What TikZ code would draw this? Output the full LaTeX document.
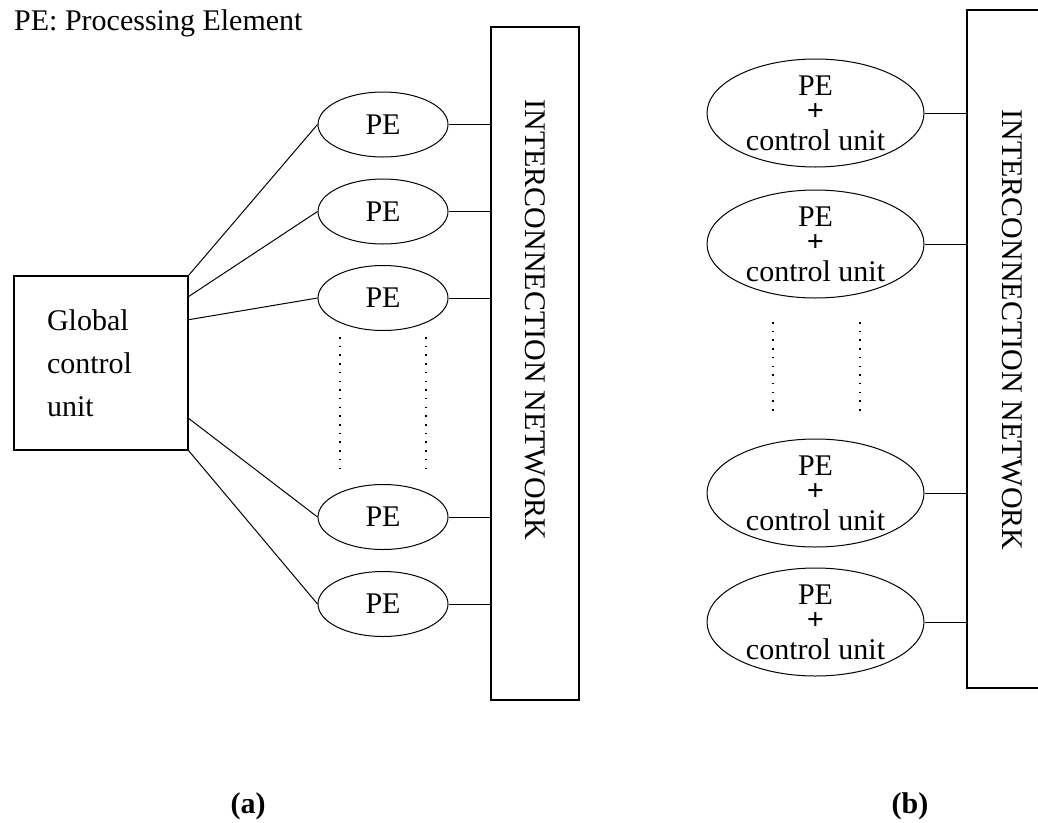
\documentclass[tikz,border=0pt]{standalone}
\usepackage{fontspec}
\setmainfont{Liberation Serif}
\usetikzlibrary{shapes.geometric,calc}
\begin{document}
\begin{tikzpicture}[x=1pt,y=-1pt,
  txt/.style={inner sep=0pt,font=\fontsize{30}{34}\selectfont},
  pe/.style={ellipse,draw,line width=1pt,minimum width=130pt,minimum height=65pt,inner sep=0pt,font=\fontsize{30}{34}\selectfont},
  pecu/.style={ellipse,draw,line width=1pt,minimum width=217pt,minimum height=108pt,inner sep=0pt,align=center,font=\fontsize{30}{30}\selectfont},
  conn/.style={line width=1pt},
  dots/.style={line width=1.3pt,dash pattern=on 1.5pt off 7.2pt},
  box/.style={draw,line width=1.2pt,inner sep=0pt}]
\useasboundingbox (0,0) rectangle (1038,822);

\node[txt,anchor=base west] (title) at (14,30) {PE: Processing Element};

% ---- (a) ----
\node[box,minimum width=174pt,minimum height=174pt,align=left,text width=108pt,
      font=\fontsize{30}{43}\selectfont] (gcu) at (101,363) {Global\\control\\unit};
\node[box,minimum width=88pt,minimum height=673pt] (ina) at (535,363.5) {};
\node[txt,rotate=-90] (inat) at (535,320) {INTERCONNECTION NETWORK};

\node[pe] (p1) at (383,124.5) {PE};
\node[pe] (p2) at (383,211.5) {PE};
\node[pe] (p3) at (383,298) {PE};
\node[pe] (p4) at (383,517) {PE};
\node[pe] (p5) at (383,604) {PE};

\draw[conn] (gcu.north east) -- (p1.west);
\draw[conn] ($(gcu.north east)!0.1207!(gcu.south east)$) -- (p2.west);
\draw[conn] ($(gcu.north east)!0.2529!(gcu.south east)$) -- (p3.west);
\draw[conn] ($(gcu.north east)!0.816!(gcu.south east)$) -- (p4.west);
\draw[conn] (gcu.south east) -- (p5.west);

\foreach \p in {p1,p2,p3,p4,p5}
  \draw[conn] (\p.east) -- (\p.east -| ina.west);

\draw[dots] (340,337) -- (340,468);
\draw[dots] (426,337) -- (426,468);

\node[txt,anchor=base,font=\fontsize{30}{34}\selectfont\bfseries] (la) at (248,813) {(a)};

% ---- (b) ----
\node[box,minimum width=120pt,minimum height=678pt] (inb) at (1027,349) {};
\node[txt,rotate=-90] (inbt) at (1012,330) {INTERCONNECTION NETWORK};

\node[pecu] (q1) at (815.5,113) {PE\\[-5pt]\textbf{+}\\control unit};
\node[pecu] (q2) at (815.5,244) {PE\\[-5pt]\textbf{+}\\control unit};
\node[pecu] (q3) at (815.5,493) {PE\\[-5pt]\textbf{+}\\control unit};
\node[pecu] (q4) at (815.5,622) {PE\\[-5pt]\textbf{+}\\control unit};

\foreach \q in {q1,q2,q3,q4}
  \draw[conn] (\q.east) -- (\q.east -| inb.west);

\draw[dots] (773,322) -- (773,412);
\draw[dots] (860,322) -- (860,412);

\node[txt,anchor=base,font=\fontsize{30}{34}\selectfont\bfseries] (lb) at (910,813) {(b)};
\end{tikzpicture}
\end{document}
